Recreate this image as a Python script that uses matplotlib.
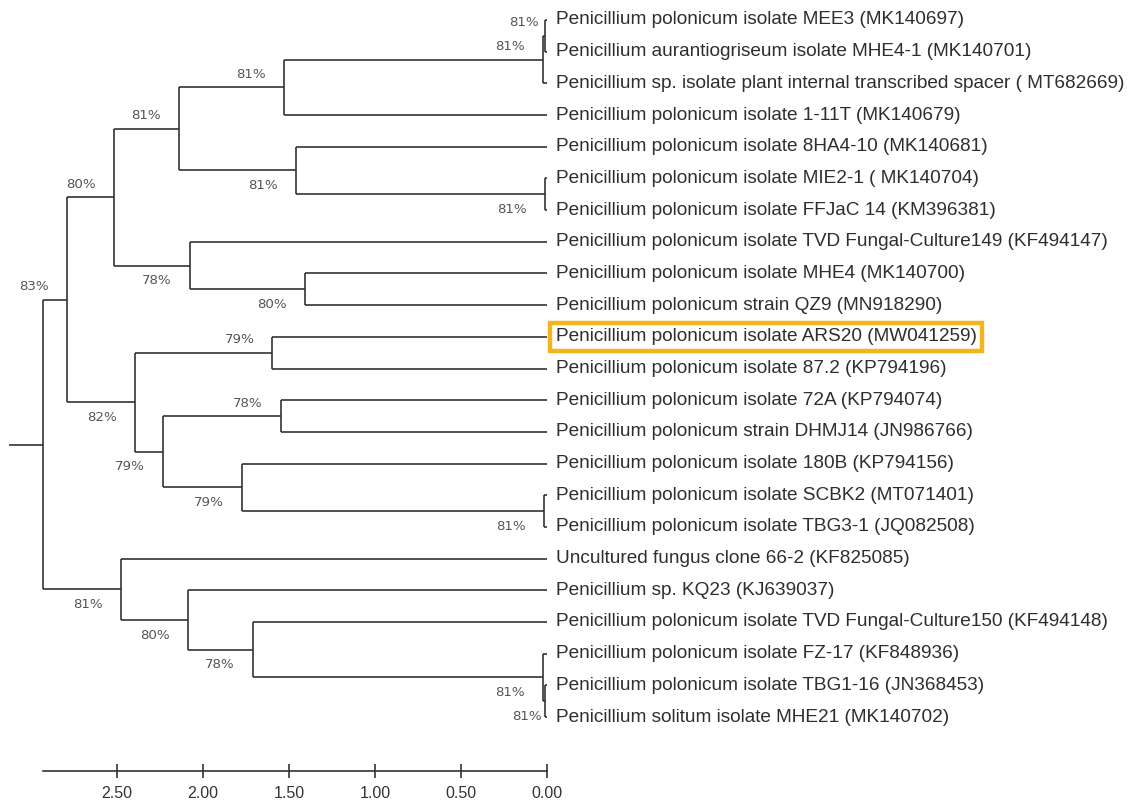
import matplotlib
matplotlib.use('Agg')
import matplotlib.pyplot as plt

# leaf labels, top to bottom
leaf_names = [
    'Penicillium polonicum isolate MEE3 (MK140697)',
    'Penicillium aurantiogriseum isolate MHE4-1 (MK140701)',
    'Penicillium sp. isolate plant internal transcribed spacer ( MT682669)',
    'Penicillium polonicum isolate 1-11T (MK140679)',
    'Penicillium polonicum isolate 8HA4-10 (MK140681)',
    'Penicillium polonicum isolate MIE2-1 ( MK140704)',
    'Penicillium polonicum isolate FFJaC 14 (KM396381)',
    'Penicillium polonicum isolate TVD Fungal-Culture149 (KF494147)',
    'Penicillium polonicum isolate MHE4 (MK140700)',
    'Penicillium polonicum strain QZ9 (MN918290)',
    'Penicillium polonicum isolate ARS20 (MW041259)',
    'Penicillium polonicum isolate 87.2 (KP794196)',
    'Penicillium polonicum isolate 72A (KP794074)',
    'Penicillium polonicum strain DHMJ14 (JN986766)',
    'Penicillium polonicum isolate 180B (KP794156)',
    'Penicillium polonicum isolate SCBK2 (MT071401)',
    'Penicillium polonicum isolate TBG3-1 (JQ082508)',
    'Uncultured fungus clone 66-2 (KF825085)',
    'Penicillium sp. KQ23 (KJ639037)',
    'Penicillium polonicum isolate TVD Fungal-Culture150 (KF494148)',
    'Penicillium polonicum isolate FZ-17 (KF848936)',
    'Penicillium polonicum isolate TBG1-16 (JN368453)',
    'Penicillium solitum isolate MHE21 (MK140702)',
]
highlight = 10

# internal nodes: children (leaf index or node id), height, bootstrap
node_ids = ['n0', 'n1', 'n2', 'n3', 'n4', 'n5', 'n6', 'n7', 'n8', 'n9', 'n10',
            'n11', 'n12', 'n13', 'n14', 'n15', 'n16', 'n17', 'n18', 'n19',
            'n20', 'root']
node_children = [(0, 1), ('n0', 2), ('n1', 3), (5, 6), (4, 'n3'), ('n2', 'n4'),
                 (8, 9), (7, 'n6'), ('n5', 'n7'), (10, 11), (12, 13), (15, 16),
                 (14, 'n11'), ('n10', 'n12'), ('n9', 'n13'), ('n8', 'n14'),
                 (21, 22), (20, 'n16'), (19, 'n17'), (18, 'n18'), (17, 'n19'),
                 ('n15', 'n20')]
node_heights = [0.013, 0.023, 1.529, 0.013, 1.458, 2.138, 1.408, 2.078, 2.518,
                1.596, 1.547, 0.018, 1.775, 2.232, 2.395, 2.792, 0.013, 0.023,
                1.710, 2.087, 2.478, 2.931]
node_support = [81, 81, 81, 81, 81, 81, 80, 78, 80, 79, 78, 81, 79, 79, 82, 83,
                81, 81, 78, 80, 81, None]
root_stub = 3.127
scale_ticks = [2.5, 2.0, 1.5, 1.0, 0.5, 0.0]

line_col = '#333333'
lw = 1.2

fig = plt.figure(figsize=(11.35, 8.01), dpi=100)
ax = fig.add_axes([0, 0, 1, 1])
ax.set_xlim(3.180, -3.419)
ax.set_ylim(24.65, -0.631)

children = dict(zip(node_ids, node_children))
height = dict(zip(node_ids, node_heights))
support = dict(zip(node_ids, node_support))

ypos = {}
xpos = {}


def place(n):
    if isinstance(n, int):
        ypos[n] = n
        xpos[n] = 0.0
        return n
    a, b = children[n]
    ya, yb = place(a), place(b)
    ypos[n] = (ya + yb) / 2
    xpos[n] = height[n]
    return ypos[n]


place('root')

# branches
for n in node_ids:
    a, b = children[n]
    ax.vlines(xpos[n], ypos[a], ypos[b], color=line_col, lw=lw)
    for c in (a, b):
        ax.hlines(ypos[c], xpos[n], xpos[c], color=line_col, lw=lw)
ax.hlines(ypos['root'], xpos['root'], root_stub, color=line_col, lw=lw)

# bootstrap values: left of node, above upper branch / below lower branch
side = {}
for n in node_ids:
    a, b = children[n]
    side[a] = 'above'
    side[b] = 'below'
label_shift = {'n0': 12, 'n16': 15}
for n in node_ids:
    if support[n] is None:
        continue
    dy = -13 if side.get(n, 'above') == 'above' else 15
    dx = -18 + label_shift.get(n, 0)
    ax.annotate('%d%%' % support[n], (xpos[n], ypos[n]), xytext=(dx * 0.72, -dy * 0.72),
                textcoords='offset points', ha='right', va='center',
                fontsize=9.6, color='#555555', family='DejaVu Sans')

# leaf names
for i, name in enumerate(leaf_names):
    kw = {}
    if i == highlight:
        kw['bbox'] = dict(boxstyle='square,pad=0.28', fc='none', ec='#F3B51B', lw=3.2)
    ax.annotate(name, (0, i), xytext=(6.2, 0), textcoords='offset points',
                ha='left', va='center', fontsize=13.7, color='#2e2e2e',
                family='Liberation Sans', **kw)

# scale bar along the bottom spine
for s in ['top', 'right', 'left']:
    ax.spines[s].set_visible(False)
ax.spines['bottom'].set_position(('data', 23.71))
ax.spines['bottom'].set_bounds(xpos['root'], 0)
ax.spines['bottom'].set_color(line_col)
ax.spines['bottom'].set_linewidth(lw)
ax.set_xticks(scale_ticks)
ax.set_xticklabels(['%.2f' % t for t in scale_ticks])
ax.tick_params(axis='x', direction='inout', length=10, width=lw, color=line_col,
               pad=5.5, labelsize=11.5, labelcolor='#333333')
for t in ax.get_xticklabels():
    t.set_family('Liberation Sans')
ax.set_yticks([])

fig.savefig('out.png', dpi=100)
